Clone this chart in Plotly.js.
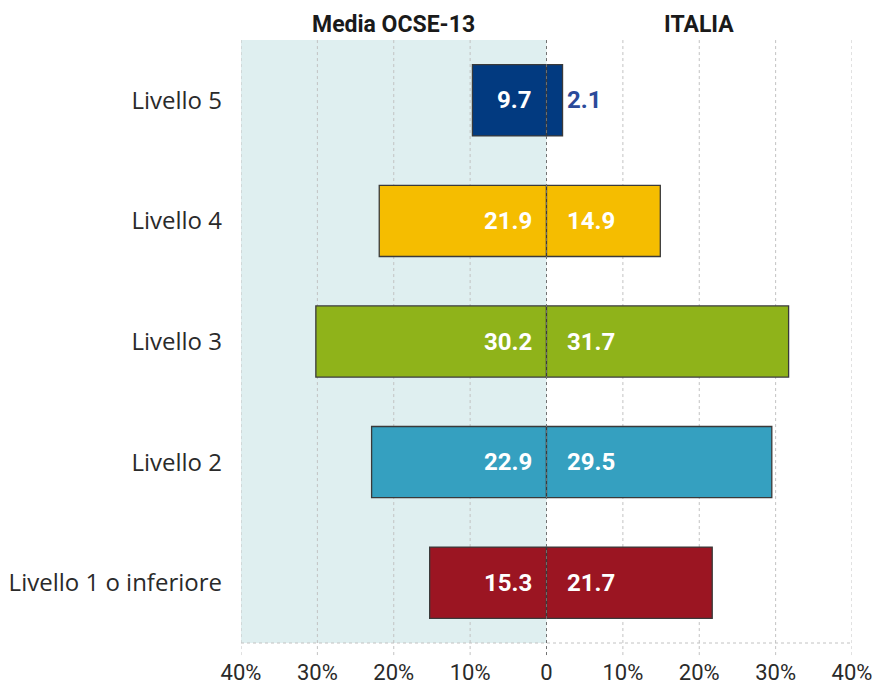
<!DOCTYPE html>
<html>
<head>
<meta charset="utf-8">
<script src="https://cdn.plot.ly/plotly-3.0.1.min.js"></script>
<style>
  html, body { margin: 0; padding: 0; background: #fff; }
  #chart { width: 876px; height: 684px; }
</style>
</head>
<body>
<div id="chart"></div>
<script>
// Distribuzione degli studenti per livello di competenza: media OCSE-13 vs Italia
const livelli = ['Livello 5', 'Livello 4', 'Livello 3', 'Livello 2', 'Livello 1 o inferiore'];
const mediaOcse = [9.7, 21.9, 30.2, 22.9, 15.3];
const italia = [2.1, 14.9, 31.7, 29.5, 21.7];
const coloriLivello = ['#023a80', '#f5bd00', '#8fb31a', '#35a0c0', '#9b1522'];
const tickValori = [-40, -30, -20, -10, 0, 10, 20, 30, 40];
const tickTesti = ['40%', '30%', '20%', '10%', '0', '10%', '20%', '30%', '40%'];

const fmt = v => v.toFixed(1);
const contorno = { color: '#3a3a3a', width: 1.3 };

const traceOcse = {
  type: 'bar', orientation: 'h',
  y: livelli, x: mediaOcse.map(v => -v),
  marker: { color: coloriLivello, line: contorno },
  width: 0.59, hoverinfo: 'skip', showlegend: false
};
const traceItalia = {
  type: 'bar', orientation: 'h',
  y: livelli, x: italia,
  marker: { color: coloriLivello, line: contorno },
  width: 0.59, hoverinfo: 'skip', showlegend: false
};

const fontNumeri = { family: 'Roboto', size: 24, color: '#ffffff', weight: 700 };
const annotations = [];
livelli.forEach((liv, i) => {
  annotations.push({
    x: 0, y: liv, xref: 'x', yref: 'y', text: fmt(mediaOcse[i]),
    showarrow: false, xanchor: 'right', xshift: -13, font: fontNumeri
  });
  const fuori = italia[i] < 5;
  annotations.push({
    x: fuori ? italia[i] : 0, y: liv, xref: 'x', yref: 'y', text: fmt(italia[i]),
    showarrow: false, xanchor: 'left', xshift: fuori ? 2 : 18,
    font: Object.assign({}, fontNumeri, { color: fuori ? '#2b4a9a' : '#ffffff' })
  });
});
// Intestazioni delle due metà
const fontTitoli = { family: 'Roboto', size: 23, color: '#1a1a1a', weight: 700 };
annotations.push({ x: -20, y: 1, xref: 'x', yref: 'paper', yanchor: 'bottom', yshift: 0,
  text: 'Media OCSE-13', showarrow: false, font: fontTitoli });
annotations.push({ x: 20, y: 1, xref: 'x', yref: 'paper', yanchor: 'bottom', yshift: 0,
  text: 'ITALIA', showarrow: false, font: fontTitoli });

const shapes = [];
// Sfondo della metà OCSE
shapes.push({ type: 'rect', xref: 'x', yref: 'paper', x0: -40, x1: 0, y0: 0, y1: 1,
  fillcolor: '#dfeff0', line: { width: 0 }, layer: 'below' });
// Griglia verticale punteggiata, prolungata sotto l'asse
tickValori.forEach(v => {
  if (v === 0) return;
  shapes.push({ type: 'line', xref: 'x', yref: 'paper', x0: v, x1: v, y0: -0.02, y1: 1,
    line: { color: '#c2c2c2', width: 1, dash: 'dot' }, layer: 'below' });
});
// Linea dello zero sopra le barre
shapes.push({ type: 'line', xref: 'x', yref: 'paper', x0: 0, x1: 0, y0: -0.02, y1: 1,
  line: { color: '#707070', width: 1, dash: 'dot' }, layer: 'above' });
// Linea di base
shapes.push({ type: 'line', xref: 'paper', yref: 'paper', x0: 0, x1: 1, y0: 0, y1: 0,
  line: { color: '#c2c2c2', width: 1, dash: 'dot' }, layer: 'below' });

const layout = {
  width: 876, height: 684,
  margin: { l: 241, r: 24, t: 40, b: 41 },
  paper_bgcolor: '#ffffff', plot_bgcolor: 'rgba(0,0,0,0)',
  barmode: 'overlay',
  xaxis: {
    range: [-40, 40], tickvals: tickValori, ticktext: tickTesti,
    showgrid: false, zeroline: false, showline: false, ticks: '',
    tickfont: { family: 'Roboto', size: 22, color: '#2a2a2a' }, ticklabelstandoff: 14,
    fixedrange: true
  },
  yaxis: {
    range: [4.5, -0.5], type: 'category', categoryarray: livelli,
    showgrid: false, zeroline: false, showline: false, ticks: '',
    tickfont: { family: 'Open Sans', size: 24, color: '#2a2a2a', weight: 500 }, ticklabelstandoff: 18,
    fixedrange: true
  },
  shapes: shapes,
  annotations: annotations
};

Plotly.newPlot('chart', [traceOcse, traceItalia], layout, { displayModeBar: false, staticPlot: true });
</script>
</body>
</html>
